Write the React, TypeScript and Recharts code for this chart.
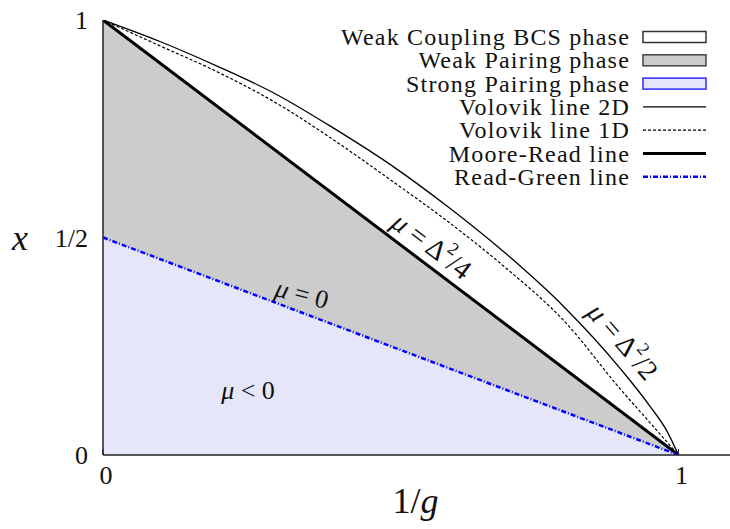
import React from 'react';
import { ComposedChart, Area, Line, XAxis, YAxis, ReferenceDot, Label } from 'recharts';

// 1/g sample positions
const invG = [0, 0.1, 0.2, 0.3, 0.4, 0.5, 0.6, 0.7, 0.8, 0.9, 0.95, 0.98, 1];
// Volovik line 2D (mu = Delta^2/2)
const volovik2D = [1, 0.95, 0.893, 0.83, 0.752, 0.667, 0.57, 0.463, 0.342, 0.197, 0.113, 0.055, 0];
// Volovik line 1D
const volovik1D = [1, 0.94, 0.88, 0.81, 0.725, 0.632, 0.536, 0.43, 0.31, 0.15, 0.075, 0.03, 0];
// Moore-Read line (mu = Delta^2/4)
const mooreRead = [1, null, null, null, null, null, null, null, null, null, null, null, 0];
// Read-Green line (mu = 0)
const readGreen = [0.5, null, null, null, null, null, null, null, null, null, null, null, 0];

const xTicks = [0, 1];
const xTickLabels = ['0', '1'];
const yTicks = [0, 0.5, 1];
const yTickLabels = ['0', '1/2', '1'];

const legendLabels = [
  'Weak Coupling BCS phase',
  'Weak Pairing phase',
  'Strong Pairing phase',
  'Volovik line 2D',
  'Volovik line 1D',
  'Moore-Read line',
  'Read-Green line',
];

const data = invG.map((g, i) => ({
  g,
  v2: volovik2D[i],
  v1: volovik1D[i],
  mr: mooreRead[i],
  rg: readGreen[i],
}));

const FONT = "'Liberation Serif', 'DejaVu Serif', serif";
const AX = '#222';

const annot = (content: React.ReactNode, angle: number, size = 26) => (props: any) => {
  const { cx, cy } = props;
  return (
    <text
      x={cx}
      y={cy}
      textAnchor="middle"
      dominantBaseline="central"
      style={{ fontFamily: FONT, fontSize: size }}
      fill="#111"
      transform={`rotate(${angle} ${cx} ${cy})`}
    >
      {content}
    </text>
  );
};

const Legend = () => {
  const x0 = 643;
  const x1 = 706;
  const rowY = (i: number) => 37 + i * 23.3;
  return (
    <svg width={730} height={220} style={{ position: 'absolute', left: 0, top: 0, pointerEvents: 'none' }}>
      {legendLabels.map((t, i) => (
        <text
          key={t}
          x={630}
          y={rowY(i)}
          textAnchor="end"
          dominantBaseline="central"
          style={{ fontFamily: FONT, fontSize: 24, letterSpacing: 1.2 }}
          fill="#111"
        >
          {t}
        </text>
      ))}
      <rect x={x0} y={rowY(0) - 5.5} width={x1 - x0} height={11} fill="#fff" stroke="#333" strokeWidth={1.5} />
      <rect x={x0} y={rowY(1) - 5.5} width={x1 - x0} height={11} fill="#cccccc" stroke="#444" strokeWidth={1.5} />
      <rect x={x0} y={rowY(2) - 5.5} width={x1 - x0} height={11} fill="#e6e6fa" stroke="#2b2bff" strokeWidth={1.5} />
      <line x1={x0} x2={x1} y1={rowY(3)} y2={rowY(3)} stroke="#000" strokeWidth={1.3} />
      <line x1={x0} x2={x1} y1={rowY(4)} y2={rowY(4)} stroke="#000" strokeWidth={1.2} strokeDasharray="3 2" />
      <line x1={x0} x2={x1} y1={rowY(5)} y2={rowY(5)} stroke="#000" strokeWidth={3} />
      <line x1={x0} x2={x1} y1={rowY(6)} y2={rowY(6)} stroke="#0000ff" strokeWidth={2.5} strokeDasharray="5 2 1 2" />
    </svg>
  );
};

export default function App() {
  return (
    <div style={{ position: 'absolute', left: 0, top: 0, width: 730, height: 529, overflow: 'hidden', background: '#fff', fontFamily: FONT }}>
      <ComposedChart
        width={740}
        height={529}
        data={data}
        margin={{ top: 20, right: 4, bottom: 44, left: 43 }}
      >
        <Area
          type="linear"
          dataKey="mr"
          connectNulls
          fill="#cccccc"
          fillOpacity={1}
          stroke="none"
          isAnimationActive={false}
          dot={false}
          activeDot={false}
        />
        <Area
          type="linear"
          dataKey="rg"
          connectNulls
          fill="#e6e6fa"
          fillOpacity={1}
          stroke="none"
          isAnimationActive={false}
          dot={false}
          activeDot={false}
        />
        <Line type="monotone" dataKey="v2" stroke="#000" strokeWidth={1.3} dot={false} activeDot={false} isAnimationActive={false} />
        <Line type="monotone" dataKey="v1" stroke="#000" strokeWidth={1.2} strokeDasharray="3 2" dot={false} activeDot={false} isAnimationActive={false} />
        <Line type="linear" dataKey="mr" connectNulls stroke="#000" strokeWidth={3} dot={false} activeDot={false} isAnimationActive={false} />
        <Line type="linear" dataKey="rg" connectNulls stroke="#0000ff" strokeWidth={2.5} strokeDasharray="5 2 1 2" dot={false} activeDot={false} isAnimationActive={false} />

        <XAxis
          dataKey="g"
          type="number"
          domain={[0, 1.1]}
          ticks={xTicks}
          tickFormatter={(v: number) => xTickLabels[xTicks.indexOf(v)]}
          height={30}
          tickSize={-6}
          tickMargin={17}
          axisLine={{ stroke: AX, strokeWidth: 1.5 }}
          tickLine={{ stroke: AX, strokeWidth: 1 }}
          tick={{ fontSize: 26, fill: '#111', fontFamily: FONT, dx: 3 }}
          allowDataOverflow
        >
          <Label
            content={(p: any) => {
              const vb = p.viewBox;
              const cx = vb.x + vb.width / 2 - 4;
              const cy = vb.y + 46;
              return (
                <text x={cx} y={cy} textAnchor="middle" dominantBaseline="central" style={{ fontFamily: FONT, fontSize: 36 }} fill="#111">
                  <tspan>1/</tspan>
                  <tspan fontStyle="italic">g</tspan>
                </text>
              );
            }}
          />
        </XAxis>
        <XAxis
          xAxisId="top"
          orientation="top"
          type="number"
          domain={[0, 1.1]}
          ticks={[1]}
          height={0}
          tickSize={-6}
          tick={false}
          axisLine={{ stroke: AX, strokeWidth: 1.5 }}
          tickLine={{ stroke: AX, strokeWidth: 1 }}
          allowDataOverflow
        />
        <YAxis
          type="number"
          domain={[0, 1]}
          ticks={yTicks}
          tickFormatter={(v: number) => yTickLabels[yTicks.indexOf(v)]}
          width={60}
          tickLine={false}
          tickSize={6}
          tickMargin={9}
          axisLine={{ stroke: AX, strokeWidth: 1.5 }}
          tick={{ fontSize: 26, fill: '#111', fontFamily: FONT }}
          allowDataOverflow
        >
          <Label
            content={(p: any) => {
              const vb = p.viewBox;
              return (
                <text x={20} y={vb.y + vb.height / 2} textAnchor="middle" dominantBaseline="central" style={{ fontFamily: FONT, fontSize: 36, fontStyle: 'italic' }} fill="#111">
                  x
                </text>
              );
            }}
          />
        </YAxis>
        <YAxis
          yAxisId="right"
          orientation="right"
          type="number"
          domain={[0, 1]}
          ticks={[0.5]}
          width={0}
          tickSize={-6}
          tick={false}
          axisLine={{ stroke: AX, strokeWidth: 1.5 }}
          tickLine={{ stroke: AX, strokeWidth: 1 }}
        />

        <ReferenceDot x={0.346} y={0.37} r={0} isFront shape={annot(<><tspan fontStyle="italic">μ</tspan> = 0</>, 15)} />
        <ReferenceDot
          x={0.572}
          y={0.482}
          r={0}
          isFront
          shape={annot(
            <>
              <tspan fontStyle="italic">μ</tspan> = Δ<tspan dy={-10} fontSize={18}>2</tspan>
              <tspan dy={10}>/4</tspan>
            </>,
            37,
            28
          )}
        />
        <ReferenceDot
          x={0.904}
          y={0.262}
          r={0}
          isFront
          shape={annot(
            <>
              <tspan fontStyle="italic">μ</tspan> = Δ<tspan dy={-10} fontSize={18}>2</tspan>
              <tspan dy={10}>/2</tspan>
            </>,
            49,
            28
          )}
        />
        <ReferenceDot x={0.252} y={0.149} r={0} isFront shape={annot(<><tspan fontStyle="italic">μ</tspan> &lt; 0</>, 0)} />
      </ComposedChart>
      <Legend />
    </div>
  );
}
